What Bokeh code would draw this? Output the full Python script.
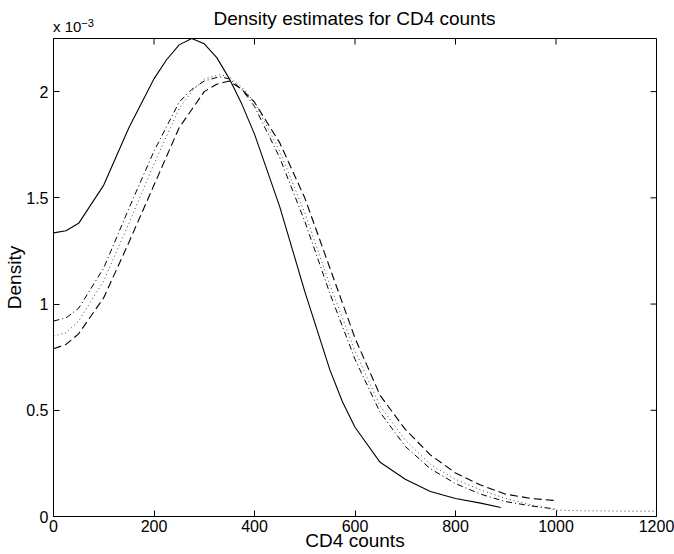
import math
from bokeh.plotting import figure
from bokeh.models import FixedTicker, Range1d, Div
from bokeh.layouts import column
from bokeh.embed import file_html
from bokeh.resources import INLINE

# ---- data (density values in units of 1e-3) ----
solid_x = [0, 25, 50, 100, 150, 200, 225, 250, 275, 300, 325, 350, 375, 400, 450, 500, 550, 575, 600, 650, 700, 750, 800, 850, 890]
solid_y = [1.335, 1.345, 1.38, 1.56, 1.83, 2.06, 2.15, 2.22, 2.25, 2.225, 2.16, 2.06, 1.94, 1.80, 1.46, 1.06, 0.69, 0.54, 0.42, 0.255, 0.175, 0.118, 0.085, 0.063, 0.042]

dashed_x = [0, 25, 50, 100, 150, 200, 250, 300, 325, 350, 375, 400, 450, 500, 550, 600, 650, 700, 750, 800, 850, 900, 950, 1000]
dashed_y = [0.79, 0.81, 0.86, 1.03, 1.29, 1.56, 1.83, 2.00, 2.035, 2.05, 2.01, 1.95, 1.76, 1.50, 1.17, 0.84, 0.57, 0.41, 0.29, 0.205, 0.148, 0.105, 0.085, 0.075]

dashdot_x = [0, 25, 50, 100, 150, 200, 250, 275, 300, 330, 350, 375, 400, 450, 500, 550, 600, 650, 700, 750, 800, 850, 900, 950, 1000]
dashdot_y = [0.92, 0.935, 0.98, 1.17, 1.45, 1.72, 1.95, 2.01, 2.05, 2.07, 2.06, 2.01, 1.93, 1.69, 1.39, 1.05, 0.74, 0.49, 0.33, 0.225, 0.155, 0.105, 0.07, 0.05, 0.035]

dotted_x = [0, 25, 50, 100, 150, 200, 250, 275, 300, 330, 350, 375, 400, 450, 500, 550, 600, 650, 700, 750, 800, 850, 900, 950, 1000, 1050, 1100, 1150, 1200]
dotted_y = [0.85, 0.865, 0.92, 1.11, 1.38, 1.66, 1.92, 2.00, 2.06, 2.08, 2.07, 2.02, 1.95, 1.72, 1.43, 1.09, 0.78, 0.52, 0.36, 0.245, 0.175, 0.125, 0.085, 0.055, 0.03, 0.027, 0.026, 0.025, 0.025]

x_ticks = [0, 200, 400, 600, 800, 1000, 1200]
y_ticks = [0, 0.5, 1, 1.5, 2]
y_tick_labels = ["0", "0.5", "1", "1.5", "2"]

title_text = "Density estimates for CD4 counts"
x_label = "CD4 counts"
y_label = "Density"
exp_base = "x 10"
exp_power = "\u22123"

X_MAX = 1200
Y_MAX = 2.25

# ---- layout ----
W = 674
HEAD = 37
H = 554 - HEAD
ML, MR, MT, MB = 53, 18, 1, 38
FONT = "Liberation Sans"

head_html = (
    f'<div style="position:relative;width:{W}px;height:{HEAD}px;font-family:\'{FONT}\';color:black;">'
    f'<span style="position:absolute;left:{ML}px;width:{W - ML - MR}px;top:9px;text-align:center;'
    f'font-size:19px;line-height:19px;white-space:nowrap;">{title_text}</span>'
    f'<span style="position:absolute;left:{ML}px;top:19px;font-size:15px;line-height:15px;white-space:nowrap;">'
    f'{exp_base}<span style="font-size:11px;position:relative;top:-5px;">{exp_power}</span></span>'
    f'</div>'
)
head = Div(text=head_html, width=W, height=HEAD, margin=0)

p = figure(width=W, height=H, output_backend="svg", toolbar_location=None,
           x_range=Range1d(0, X_MAX), y_range=Range1d(0, Y_MAX),
           min_border_left=ML, min_border_right=MR, min_border_top=MT, min_border_bottom=MB,
           background_fill_color="white", border_fill_color="white", margin=0)
p.grid.visible = False
p.outline_line_color = "black"
p.outline_line_width = 1

for ax in (p.xaxis[0], p.yaxis[0]):
    ax.axis_line_color = "black"
    ax.major_tick_in = 6
    ax.major_tick_out = 0
    ax.minor_tick_in = 0
    ax.minor_tick_out = 0
    ax.major_tick_line_color = "black"
    ax.major_label_text_font = FONT
    ax.major_label_text_font_size = "16px"
    ax.major_label_text_color = "black"
    ax.axis_label_text_font = FONT
    ax.axis_label_text_font_size = "19px"
    ax.axis_label_text_font_style = "normal"
    ax.axis_label_text_color = "black"

p.xaxis.ticker = FixedTicker(ticks=x_ticks)
p.yaxis.ticker = FixedTicker(ticks=y_ticks)
p.yaxis.major_label_overrides = {t: s for t, s in zip(y_ticks, y_tick_labels)}
p.xaxis.major_label_standoff = 3
p.yaxis.major_label_standoff = 5
p.xaxis.axis_label = x_label
p.yaxis.axis_label = y_label
p.xaxis.axis_label_standoff = -5
p.yaxis.axis_label_standoff = -2

# mirrored inward ticks on the top and right edges of the box
p.scatter(x_ticks, [Y_MAX] * len(x_ticks), marker="dash", angle=math.pi / 2, size=12,
          line_color="black", line_width=1)
p.scatter([X_MAX] * len(y_ticks), y_ticks, marker="dash", size=12,
          line_color="black", line_width=1)

# ---- curves ----
p.line(solid_x, solid_y, line_color="black", line_width=1.1)
p.line(dashed_x, dashed_y, line_color="black", line_width=1.1, line_dash="8 4")
p.line(dashdot_x, dashdot_y, line_color="black", line_width=1.0, line_dash="6 3 1 3")
p.line(dotted_x, dotted_y, line_color="#444444", line_width=1.0, line_dash="1 3")

layout = column(head, p, spacing=0, margin=0)
open("out.html", "w").write(file_html(layout, INLINE))
